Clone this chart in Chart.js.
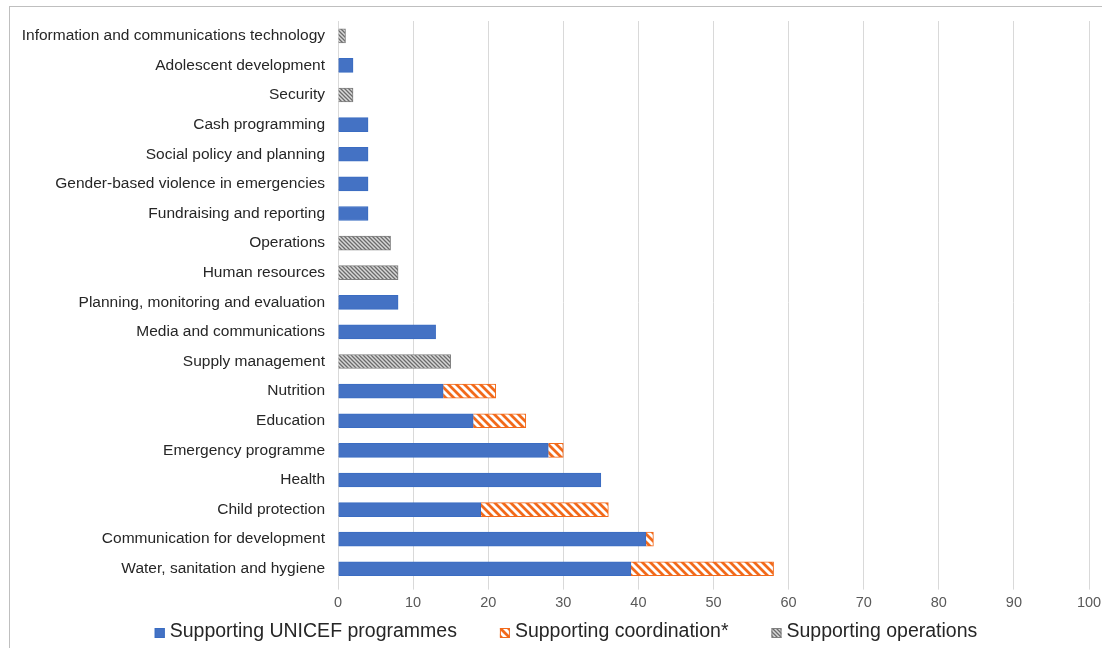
<!DOCTYPE html>
<html>
<head>
<meta charset="utf-8">
<script src="https://cdn.jsdelivr.net/npm/chart.js@4.4.1/dist/chart.umd.min.js"></script>
<style>
  html, body { margin: 0; padding: 0; background: #fff; }
  #wrap { position: relative; width: 1102px; height: 648px; overflow: hidden; }
  #frame { position: absolute; left: 9px; top: 6px; width: 1200px; height: 700px;
           border-left: 1px solid #bfbfbf; border-top: 1px solid #bfbfbf; }
  canvas { position: absolute; left: 0; top: 0; }
</style>
</head>
<body>
<div id="wrap">
  <div id="frame"></div>
  <canvas id="chart" width="1102" height="648"></canvas>
</div>
<script>
const categories = [
  'Information and communications technology',
  'Adolescent development',
  'Security',
  'Cash programming',
  'Social policy and planning',
  'Gender-based violence in emergencies',
  'Fundraising and reporting',
  'Operations',
  'Human resources',
  'Planning, monitoring and evaluation',
  'Media and communications',
  'Supply management',
  'Nutrition',
  'Education',
  'Emergency programme',
  'Health',
  'Child protection',
  'Communication for development',
  'Water, sanitation and hygiene'
];
const programmes   = [0, 2, 0, 4, 4, 4, 4, 0, 0, 8, 13, 0, 14, 18, 28, 35, 19, 41, 39];
const coordination = [0, 0, 0, 0, 0, 0, 0, 0, 0, 0, 0, 0, 7, 7, 2, 0, 17, 1, 19];
const operations   = [1, 0, 2, 0, 0, 0, 0, 7, 8, 0, 0, 15, 0, 0, 0, 0, 0, 0, 0];
const xTicks = [0, 10, 20, 30, 40, 50, 60, 70, 80, 90, 100];

// hatch patterns
function makeStripes(bg, fg, size, lineW) {
  const c = document.createElement('canvas');
  c.width = size; c.height = size;
  const g = c.getContext('2d');
  g.fillStyle = bg;
  g.fillRect(0, 0, size, size);
  g.strokeStyle = fg;
  g.lineWidth = lineW;
  g.beginPath();
  // "\" direction stripes
  g.moveTo(-size, 0); g.lineTo(size, 2 * size);
  g.moveTo(0, 0); g.lineTo(size, size);
  g.moveTo(0, -size); g.lineTo(2 * size, size);
  g.stroke();
  return document.getElementById('chart').getContext('2d').createPattern(c, 'repeat');
}
const orangeHatch = makeStripes('#ffffff', '#f26a1b', 8, 2.8);
const grayHatch = makeStripes('#d8d8d8', '#6b6b6b', 4, 1.3);

// legend drawn under the plot, laid out like the original (small box, tight gap)
const bottomLegend = {
  id: 'bottomLegend',
  afterDraw(chart) {
    const g = chart.ctx;
    const font = '19.5px "Liberation Sans"';
    const box = 10, gapText = 5, gapItem = 43, cy = 632;
    g.save();
    g.font = font;
    const items = chart.data.datasets.map(ds => ({
      ds: ds, w: box + gapText + g.measureText(ds.label).width
    }));
    const total = items.reduce((s, it) => s + it.w, 0) + gapItem * (items.length - 1);
    let x = 566 - total / 2;
    items.forEach(it => {
      g.fillStyle = it.ds.backgroundColor;
      g.fillRect(x, cy - box / 2 + 1, box, box);
      g.strokeStyle = it.ds.borderColor;
      g.lineWidth = 1;
      g.strokeRect(x + 0.5, cy - box / 2 + 1.5, box - 1, box - 1);
      g.fillStyle = '#262626';
      g.textBaseline = 'middle';
      g.fillText(it.ds.label, x + box + gapText, cy);
      x += it.w + gapItem;
    });
    g.restore();
  }
};

const ctx = document.getElementById('chart').getContext('2d');
new Chart(ctx, {
  type: 'bar',
  data: {
    labels: categories,
    datasets: [
      {
        label: 'Supporting UNICEF programmes',
        data: programmes,
        backgroundColor: '#4472c4',
        borderColor: '#3a6cc2',
        borderWidth: 1,
        barThickness: 14
      },
      {
        label: 'Supporting coordination*',
        data: coordination,
        backgroundColor: orangeHatch,
        borderColor: '#f26a1b',
        borderWidth: 1,
        barThickness: 14
      },
      {
        label: 'Supporting operations',
        data: operations,
        backgroundColor: grayHatch,
        borderColor: '#7f7f7f',
        borderWidth: 1,
        barThickness: 14
      }
    ]
  },
  options: {
    indexAxis: 'y',
    responsive: false,
    animation: false,
    layout: { padding: { top: 21, right: 13, left: 0, bottom: 31 } },
    scales: {
      x: {
        stacked: true,
        min: 0,
        max: 100,
        afterBuildTicks: function(scale) {
          scale.ticks = xTicks.map(v => ({ value: v }));
        },
        afterFit: function(scale) { scale.paddingRight = 0; },
        grid: { color: '#d9d9d9', lineWidth: 1, tickLength: 6, drawTicks: true },
        border: { display: false },
        ticks: { color: '#595959', font: { family: 'Liberation Sans', size: 14.5 }, padding: 5 }
      },
      y: {
        stacked: true,
        afterFit: function(scale) { scale.width = 338; },
        grid: { display: false },
        border: { display: false },
        ticks: { color: '#262626', font: { family: 'Liberation Sans', size: 15.5 }, padding: 5, autoSkip: false }
      }
    },
    plugins: {
      legend: { display: false },
      tooltip: { enabled: false }
    }
  },
  plugins: [bottomLegend]
});
</script>
</body>
</html>
